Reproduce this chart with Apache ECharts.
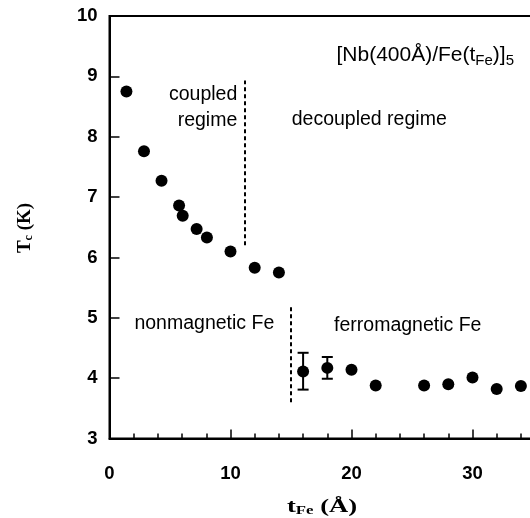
<!DOCTYPE html>
<html>
<head>
<meta charset="utf-8">
<script src="https://cdn.jsdelivr.net/npm/echarts@6/dist/echarts.min.js"></script>
<style>
  html, body { margin: 0; padding: 0; background: #fff; }
  #main { width: 530px; height: 518px; }
</style>
</head>
<body>
<div id="main"></div>
<script>
// Fe layer thickness (Å) and superconducting transition temperature (K)
const thickness = [1.4, 2.85, 4.3, 5.75, 6.05, 7.2, 8.05, 10, 12, 14, 16, 18, 20, 22, 26, 28, 30, 32, 34];
const tc = [8.75, 7.76, 7.27, 6.86, 6.69, 6.47, 6.33, 6.10, 5.83, 5.75, 4.11, 4.17, 4.14, 3.88, 3.88, 3.90, 4.01, 3.82, 3.87];

// error bars on two points
const errThickness = [16, 18];
const errLow = [3.81, 3.99];
const errHigh = [4.42, 4.35];

// regime boundaries (dashed)
const coupledBoundary = [[11.2, 6.2], [11.2, 8.93]];
const magneticBoundary = [[15, 3.6], [15, 5.18]];

// text notes placed in data coordinates
const noteText = ['coupled\nregime', 'decoupled regime', 'nonmagnetic Fe', 'ferromagnetic Fe',
                  '[Nb(400Å)/Fe(t{s|Fe})]{s|5}'];
const noteAt = [[10.6, 8.48], [15.1, 8.28], [2.1, 4.90], [18.6, 4.86], [18.8, 9.34]];
const noteAlign = ['right', 'left', 'left', 'left', 'left'];

const SANS = '"Liberation Sans", Arial, Helvetica, sans-serif';
const SERIF = '"Liberation Serif", "Times New Roman", serif';

const chart = echarts.init(document.getElementById('main'), null, { renderer: 'canvas' });

const notes = noteText.map((t, i) => ({
  value: noteAt[i],
  label: {
    show: true,
    formatter: t,
    position: [0, 0],
    align: noteAlign[i],
    verticalAlign: 'middle',
    fontSize: i === 4 ? 21 : 19.5,
    lineHeight: 26,
    color: '#000',
    fontFamily: SANS,
    rich: { s: { fontSize: 15, lineHeight: 14, verticalAlign: 'bottom', fontFamily: SANS, color: '#000' } }
  }
}));

const option = {
  animation: false,
  backgroundColor: '#fff',
  // plot box runs past the right edge of the canvas (x up to 40 Å)
  grid: {
    left: 109.5, top: 16, width: 484, bottom: 79.5,
    outerBoundsMode: 'none', containLabel: false,
    show: true, borderColor: '#000', borderWidth: 2, backgroundColor: 'transparent'
  },
  xAxis: {
    type: 'value', min: 0, max: 40, interval: 10,
    axisLine: { onZero: false, lineStyle: { color: '#000', width: 2 } },
    axisTick: { inside: true, length: 9, lineStyle: { color: '#000', width: 1.5 } },
    minorTick: { show: true, splitNumber: 5, length: 5, lineStyle: { color: '#000', width: 1.5 } },
    splitLine: { show: false },
    axisLabel: { color: '#000', fontSize: 18.5, fontWeight: 'bold', fontFamily: SANS, margin: 26 }
  },
  yAxis: {
    type: 'value', min: 3, max: 10, interval: 1,
    axisLine: { onZero: false, lineStyle: { color: '#000', width: 2 } },
    axisTick: { inside: true, length: 10, lineStyle: { color: '#000', width: 1.5 } },
    splitLine: { show: false },
    axisLabel: { color: '#000', fontSize: 18.5, fontWeight: 'bold', fontFamily: SANS, margin: 12 }
  },
  graphic: [
    {
      type: 'text', x: 25, y: 228, rotation: Math.PI / 2, silent: true,
      style: {
        text: 'T{s|c} (K)', align: 'center', verticalAlign: 'middle',
        fontSize: 19, fontWeight: 'bold', fontFamily: SERIF, fill: '#000',
        rich: { s: { fontSize: 12, fontWeight: 'bold', fontFamily: SERIF, verticalAlign: 'bottom', lineHeight: 12 } }
      }
    },
    {
      type: 'text', x: 322, y: 507, scaleX: 1.4, silent: true,
      style: {
        text: 't{s|Fe} (Å)', align: 'center', verticalAlign: 'middle',
        fontSize: 19, fontWeight: 'bold', fontFamily: SERIF, fill: '#000',
        rich: { s: { fontSize: 12, fontWeight: 'bold', fontFamily: SERIF, verticalAlign: 'bottom', lineHeight: 12 } }
      }
    }
  ],
  series: [
    {
      type: 'line', data: coupledBoundary, symbol: 'none', silent: true,
      lineStyle: { color: '#000', width: 2, type: [4, 3] }
    },
    {
      type: 'line', data: magneticBoundary, symbol: 'none', silent: true,
      lineStyle: { color: '#000', width: 2, type: [4, 3] }
    },
    {
      type: 'custom', silent: true,
      data: errThickness.map((x, i) => [x, errLow[i], errHigh[i]]),
      renderItem: function (params, api) {
        const x = api.value(0);
        const lo = api.coord([x, api.value(1)]);
        const hi = api.coord([x, api.value(2)]);
        const cap = 5.5;
        const st = { stroke: '#000', lineWidth: 2 };
        return {
          type: 'group',
          children: [
            { type: 'line', shape: { x1: lo[0], y1: lo[1], x2: hi[0], y2: hi[1] }, style: st },
            { type: 'line', shape: { x1: lo[0] - cap, y1: lo[1], x2: lo[0] + cap, y2: lo[1] }, style: st },
            { type: 'line', shape: { x1: hi[0] - cap, y1: hi[1], x2: hi[0] + cap, y2: hi[1] }, style: st }
          ]
        };
      }
    },
    {
      type: 'scatter', silent: true, symbol: 'circle', symbolSize: 12,
      itemStyle: { color: '#000', opacity: 1 },
      data: thickness.map((x, i) => [x, tc[i]])
    },
    {
      type: 'scatter', silent: true, symbolSize: 1,
      itemStyle: { color: 'rgba(0,0,0,0)', opacity: 1 },
      data: notes
    }
  ]
};

chart.setOption(option);
</script>
</body>
</html>
